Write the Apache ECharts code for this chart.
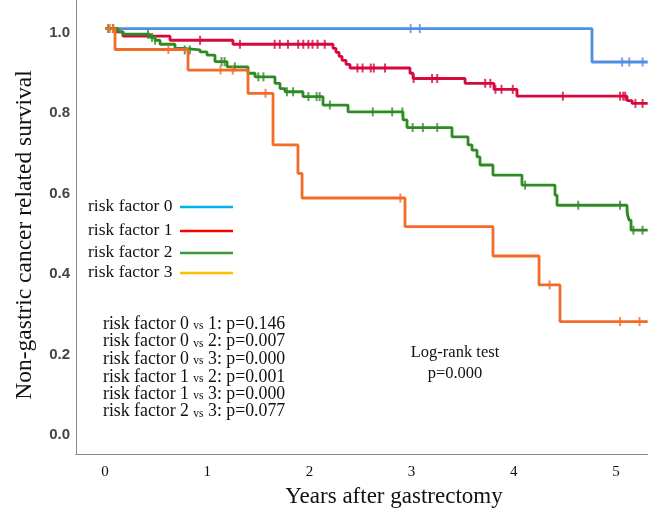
<!DOCTYPE html>
<html>
<head>
<meta charset="utf-8">
<script src="https://cdn.jsdelivr.net/npm/echarts@6/dist/echarts.min.js"></script>
<style>
html,body{margin:0;padding:0;background:#fff;}
#c{width:648px;height:511px;}
</style>
</head>
<body>
<div id="c"></div>
<script>
// ---- data (years after gastrectomy, survival proportion) ----
const endTime = 5.31;
const xTicks = [0, 1, 2, 3, 4, 5];
const yTicks = [0, 0.2, 0.4, 0.6, 0.8, 1.0];

const seriesNames = ['risk factor 0', 'risk factor 1', 'risk factor 2', 'risk factor 3'];

const rf0Times = [0, 4.765];
const rf0Surv  = [1.0, 0.917];
const rf0Cens  = [2.99, 3.08, 5.06, 5.13, 5.26];

const rf1Times = [0, 0.108, 0.176, 0.636, 1.252, 2.231, 2.260, 2.290, 2.319, 2.358, 2.397, 2.984, 3.014, 3.523, 3.806, 4.031, 5.108, 5.157];
const rf1Surv  = [1.0, 0.992, 0.981, 0.971, 0.961, 0.951, 0.941, 0.931, 0.921, 0.911, 0.902, 0.889, 0.876, 0.864, 0.849, 0.832, 0.821, 0.814];
const rf1Cens  = [0.93, 1.32, 1.66, 1.71, 1.79, 1.89, 1.94, 1.99, 2.03, 2.08, 2.15, 2.47, 2.52, 2.60, 2.63, 2.74, 3.02, 3.20, 3.25, 3.72, 3.77, 3.82, 3.88, 3.99, 4.48, 5.04, 5.07, 5.09, 5.19, 5.26];

const rf2Times = [0, 0.127, 0.176, 0.440, 0.489, 0.538, 0.685, 0.763, 0.930, 0.998, 1.076, 1.194, 1.399, 1.468, 1.663, 1.712, 1.761, 1.937, 2.133, 2.378, 2.916, 2.955, 3.395, 3.552, 3.591, 3.640, 3.669, 3.796, 4.080, 4.403, 4.423, 5.108, 5.127, 5.147];
const rf2Surv  = [1.0, 0.992, 0.986, 0.978, 0.971, 0.961, 0.951, 0.947, 0.942, 0.934, 0.918, 0.905, 0.889, 0.880, 0.864, 0.851, 0.843, 0.831, 0.810, 0.793, 0.773, 0.754, 0.731, 0.711, 0.698, 0.681, 0.661, 0.636, 0.611, 0.586, 0.561, 0.544, 0.524, 0.499];
const rf2Cens  = [0.03, 0.08, 0.42, 0.46, 0.49, 0.78, 0.83, 1.14, 1.17, 1.27, 1.50, 1.55, 1.78, 1.84, 1.99, 2.07, 2.10, 2.20, 2.62, 2.81, 2.91, 3.01, 3.11, 3.25, 4.11, 4.63, 5.04, 5.11, 5.17, 5.26];

const rf3Times = [0, 0.098, 0.812, 1.399, 1.644, 1.888, 1.928, 2.935, 3.796, 4.247, 4.452];
const rf3Surv  = [1.0, 0.948, 0.897, 0.839, 0.711, 0.640, 0.579, 0.508, 0.435, 0.363, 0.272];
const rf3Cens  = [0.05, 0.08, 0.62, 1.13, 1.25, 1.57, 2.89, 4.35, 5.04, 5.23];

const curveColors  = ['#4f8fe3', '#d7083c', '#2e8b24', '#f36b28'];
const legendColors = ['#00b0f0', '#ff0000', '#3a9a3a', '#ffc000'];

const pairLabels = [
  ['0', '1', '0.146'],
  ['0', '2', '0.007'],
  ['0', '3', '0.000'],
  ['1', '2', '0.001'],
  ['1', '3', '0.000'],
  ['2', '3', '0.077']
];
const logRankText = ['Log-rank test', 'p=0.000'];

// ---- helpers ----
function stepData(times, surv) {
  const d = times.map((t, i) => [t, surv[i]]);
  d.push([endTime, surv[surv.length - 1]]);
  return d;
}
function survAt(times, surv, t) {
  let s = surv[0];
  for (let i = 0; i < times.length; i++) { if (times[i] <= t) s = surv[i]; }
  return s;
}
function censData(times, surv, cens) {
  return cens.map(t => [t, survAt(times, surv, t)]);
}

const groups = [
  [rf0Times, rf0Surv, rf0Cens],
  [rf1Times, rf1Surv, rf1Cens],
  [rf2Times, rf2Surv, rf2Cens],
  [rf3Times, rf3Surv, rf3Cens]
];

const series = [];
groups.forEach((g, i) => {
  series.push({
    name: seriesNames[i], type: 'line', step: 'end', symbol: 'none',
    data: stepData(g[0], g[1]),
    lineStyle: { color: curveColors[i], width: 2.8 },
    z: 2 + i, silent: true, animation: false
  });
  series.push({
    name: seriesNames[i] + ' censored', type: 'scatter', symbol: 'rect',
    symbolSize: [2, 9],
    data: censData(g[0], g[1], g[2]),
    itemStyle: { color: curveColors[i] },
    z: 2 + i, silent: true, animation: false
  });
});

const serif = '"Liberation Serif", "Times New Roman", serif';

const graphics = [];
const legendY = [207, 231, 253, 273];
seriesNames.forEach((n, i) => {
  graphics.push({ type: 'text', left: 88, top: legendY[i] - 10,
    style: { text: n, font: '17.5px ' + serif, fill: '#111' } });
  graphics.push({ type: 'line', shape: { x1: 180, y1: legendY[i], x2: 233, y2: legendY[i] },
    style: { stroke: legendColors[i], lineWidth: 2.5 } });
});
const statY = [324, 341.7, 359.3, 377.3, 394.3, 411.7];
pairLabels.forEach((p, i) => {
  graphics.push({ type: 'text', x: 103, y: statY[i],
    style: {
      text: '{a|risk factor ' + p[0] + ' }{b|vs}{a| ' + p[1] + ': p=' + p[2] + '}',
      verticalAlign: 'middle',
      rich: {
        a: { font: '17.8px ' + serif, fill: '#111' },
        b: { font: '11.5px ' + serif, fill: '#111', padding: [4, 0, 0, 0] }
      }
    } });
});
graphics.push({ type: 'text', x: 455, y: 353,
  style: { text: logRankText[0], font: '16.5px ' + serif, fill: '#111', align: 'center', verticalAlign: 'middle' } });
graphics.push({ type: 'text', x: 455, y: 374,
  style: { text: logRankText[1], font: '16.5px ' + serif, fill: '#111', align: 'center', verticalAlign: 'middle' } });
graphics.push({ type: 'text', x: 394, y: 497,
  style: { text: 'Years after gastrectomy', font: '23px ' + serif, fill: '#111', align: 'center', verticalAlign: 'middle' } });
graphics.push({ type: 'text', x: 25, y: 235, rotation: Math.PI / 2,
  style: { text: 'Non-gastric cancer related survival', font: '23.5px ' + serif, fill: '#111', align: 'center', verticalAlign: 'middle' } });

const chart = echarts.init(document.getElementById('c'), null, { renderer: 'canvas' });
chart.setOption({
  animation: false,
  backgroundColor: '#fff',
  grid: { left: 76, right: 0, top: 0, bottom: 57, containLabel: false },
  xAxis: {
    type: 'value', min: -0.284, max: 5.313,
    axisLine: { show: true, onZero: false, lineStyle: { color: '#888', width: 1 } },
    axisTick: { show: false },
    splitLine: { show: false },
    axisLabel: { customValues: xTicks, margin: 11, fontFamily: serif, fontSize: 15, color: '#111',
      formatter: v => String(v) }
  },
  yAxis: {
    type: 'value', min: -0.057, max: 1.071,
    axisLine: { show: true, onZero: false, lineStyle: { color: '#888', width: 1 } },
    axisTick: { show: false },
    splitLine: { show: false },
    axisLabel: { customValues: yTicks, margin: 6,
      formatter: v => '{t|' + v.toFixed(1) + '}',
      rich: { t: { fontFamily: '"Liberation Sans", Arial, sans-serif', fontSize: 15, fontWeight: 'bold', color: '#444', padding: [8, 0, 0, 0] } } }
  },
  series: series,
  graphic: graphics
});
</script>
</body>
</html>
